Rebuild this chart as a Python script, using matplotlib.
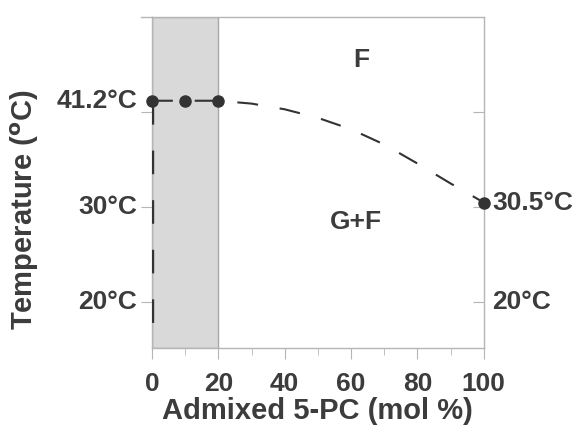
import matplotlib
matplotlib.use('Agg')
import matplotlib.pyplot as plt
from matplotlib.ticker import MultipleLocator
from matplotlib.lines import Line2D, TICKLEFT
from matplotlib.transforms import offset_copy

plt.rcParams['font.family'] = ['Liberation Sans', 'DejaVu Sans']
plt.rcParams['font.weight'] = 'bold'

# data
dot_x = [0, 10, 20, 100]
dot_t = [41.2, 41.2, 41.2, 30.5]
curve_x = [0, 10, 20, 30, 40, 50, 60, 70, 80, 90, 100]
curve_t = [41.2, 41.2, 41.2, 40.9, 40.3, 39.4, 38.2, 36.6, 34.6, 32.5, 30.5]
vert_x = [0, 0]
vert_t = [41.2, 15.2]
shade_range = (0, 20)
x_ticks = [0, 20, 40, 60, 80, 100]
y_ticks = [20, 30, 40]
left_labels = [(41.2, '41.2°C'), (30, '30°C'), (20, '20°C')]
right_labels = [(30.5, '30.5°C'), (20, '20°C')]
region_labels = [(63, 45.5, 'F'), (61.5, 28.4, 'G+F')]

txt = '#3c3c3c'
ink = '#333333'
spine_c = '#b5b5b5'

fig = plt.figure(figsize=(5.78, 4.26), dpi=100)
ax = fig.add_axes([0.263, 0.183, 0.574, 0.777])

ax.axvspan(*shade_range, facecolor='#d9d9d9', edgecolor='#a8a8a8', lw=1, zorder=0)
ax.plot(curve_x, curve_t, color=ink, lw=1.5, dashes=(10, 10.5), zorder=3)
# vertical dashes sit just right of the left spine
shifted = offset_copy(ax.transData, fig=fig, x=1.2, y=0, units='dots')
ax.plot(vert_x, vert_t, color=ink, lw=1.7, dashes=(10, 11), zorder=3,
        transform=shifted)
ax.plot(dot_x, dot_t, 'o', color=ink, ms=8, zorder=4, clip_on=False)

ax.set_xlim(0, 100)
ax.set_ylim(15.2, 50)

for s in ax.spines.values():
    s.set_color(spine_c)
    s.set_linewidth(1)

# top spine runs a bit past the left edge in the original
fig.add_artist(Line2D([141 / 578, 0.263], [0.960, 0.960], color=spine_c, lw=1))

ax.set_xticks(x_ticks)
ax.xaxis.set_minor_locator(MultipleLocator(10))
ax.tick_params(axis='x', which='major', direction='out', length=8, color=spine_c,
               labelsize=19, labelcolor=txt, pad=9)
ax.tick_params(axis='x', which='minor', direction='out', length=5, color=spine_c)
ax.set_yticks(y_ticks)
ax.set_yticklabels([])
ax.tick_params(axis='y', which='major', direction='out', length=8, color=spine_c,
               left=True, right=True)
for t in ax.yaxis.get_major_ticks():
    t.tick2line.set_marker(TICKLEFT)
    t.tick2line.set_markersize(8)

for t, s in left_labels:
    ax.text(-4.5, t, s, ha='right', va='center', fontsize=19, color=txt)
for t, s in right_labels:
    ax.text(102.5, t, s, ha='left', va='center', fontsize=19, color=txt)
for x, t, s in region_labels:
    ax.text(x, t, s, ha='center', va='center', fontsize=19, color=txt)

ax.set_xlabel('Admixed 5-PC (mol %)', fontsize=21, color=txt, fontweight='bold',
              labelpad=1)
fig.text(0.043, 0.507, 'Temperature ($\\mathbf{^{o}}$C)', rotation=90, ha='center',
         va='center', fontsize=21, color=txt, fontweight='bold')

fig.savefig('out.png', dpi=100)
